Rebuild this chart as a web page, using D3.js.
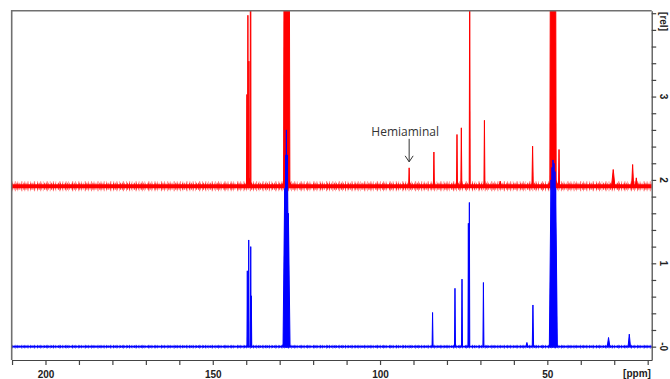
<!DOCTYPE html>
<html>
<head>
<meta charset="utf-8">
<script src="https://cdn.jsdelivr.net/npm/d3@7/dist/d3.min.js"></script>
<style>
  body { margin: 0; background: #fff; }
  svg { display: block; }
</style>
</head>
<body>
<div id="chart"></div>
<script>
// axis labels
const ppmLabels = [200, 150, 100, 50];
const relValues = [0, 1, 2, 3];
const relLabels = ['-0', '1', '2', '3'];

// blue trace (starting material), baseline at 0
const blueBaseline = 0;
const bluePpm    = [139.67, 139.25, 138.65, 138.47, 128.0, 128.5, 128.2, 128.0, 127.7, 127.4,
                    84.3, 77.6, 75.5, 73.6, 73.3, 69.1, 56.1, 54.3,
                    48.2, 48.9, 48.6, 48.3, 48.0, 47.7, 47.5, 31.7, 25.5];
const blueHeight = [0.91, 1.28, 1.20, 0.61, 0.12, 1.9, 2.3, 2.6, 2.3, 1.6,
                    0.41, 0.70, 0.81, 1.48, 1.73, 0.77, 0.05, 0.50,
                    0.12, 2.0, 2.15, 2.24, 2.2, 2.1, 1.9, 0.11, 0.15];
const blueWidth  = [0.12, 0.12, 0.12, 0.12, 1.2, 0.5, 0.5, 0.5, 0.5, 0.5,
                    0.15, 0.15, 0.15, 0.12, 0.12, 0.15, 0.3, 0.2,
                    1.2, 0.5, 0.5, 0.5, 0.5, 0.5, 0.5, 0.4, 0.35];

// red trace (reaction mixture), offset upwards
const redBaseline = 1.925;
const redPpm    = [139.2, 139.8, 139.5, 139.2, 138.7, 127.9, 128.5, 128.2, 127.9, 127.6, 127.3,
                   91.3, 83.9, 77.0, 75.7, 73.2, 68.8, 64.1, 54.4,
                   48.2, 48.9, 48.6, 48.3, 48.0, 47.7, 46.5, 30.3, 24.5, 23.4];
const redHeight = [0.10, 1.1, 2.05, 1.5, 6.0, 0.15, 6.0, 6.0, 6.0, 6.0, 6.0,
                   0.22, 0.41, 0.62, 0.70, 2.6, 0.79, 0.06, 0.48,
                   0.15, 6.0, 6.0, 6.0, 6.0, 6.0, 0.44, 0.20, 0.26, 0.10];
const redWidth  = [1.0, 0.12, 0.12, 0.12, 0.12, 1.4, 0.35, 0.35, 0.35, 0.35, 0.35,
                   0.15, 0.15, 0.15, 0.15, 0.15, 0.15, 0.3, 0.2,
                   1.4, 0.35, 0.35, 0.35, 0.35, 0.35, 0.15, 0.5, 0.3, 0.3];

const annotationText = 'Hemiaminal';
const annotationPpm = 91.3;
const annotationHeight = 0.22;

const width = 670;
const height = 379;
const plot = { left: 11.7, right: 651.7, top: 10.7, bottom: 360 };

const svg = d3.select('#chart').append('svg')
  .attr('width', width)
  .attr('height', height);

// scales: ppm runs right to left
const x = d3.scaleLinear()
  .domain([210.1, 18.8])
  .range([plot.left, plot.right]);

const y = d3.scaleLinear()
  .domain([-0.16, 4.03])
  .range([plot.bottom, plot.top]);

svg.append('clipPath')
  .attr('id', 'plot-clip')
  .append('rect')
  .attr('x', plot.left)
  .attr('y', plot.top)
  .attr('width', plot.right - plot.left)
  .attr('height', plot.bottom - plot.top);

const traces = svg.append('g').attr('clip-path', 'url(#plot-clip)');

// one spectrum = noisy baseline band + narrow peaks
function drawTrace(baseline, ppm, heights, widths, colour, core, halo) {
  const g = traces.append('g');
  const baseLine = d3.line()
    .x(d => x(d))
    .y(() => y(baseline));

  // two uneven dashed halos stand in for the baseline noise
  g.append('path')
    .datum(x.domain())
    .attr('d', baseLine)
    .attr('stroke', colour)
    .attr('stroke-width', halo)
    .attr('stroke-dasharray', '0.8 2.3 1 1.7 0.6 3.1 1.2 2')
    .attr('stroke-opacity', 0.5)
    .attr('fill', 'none');

  g.append('path')
    .datum(x.domain())
    .attr('d', baseLine)
    .attr('stroke', colour)
    .attr('stroke-width', (core + halo) / 2)
    .attr('stroke-dasharray', '1 1.1 0.7 1.9 1.3 0.9')
    .attr('stroke-opacity', 0.7)
    .attr('fill', 'none');

  g.append('path')
    .datum(x.domain())
    .attr('d', baseLine)
    .attr('stroke', colour)
    .attr('stroke-width', core)
    .attr('fill', 'none');

  const peaks = ppm.map((p, i) => ({ p: p, h: heights[i], w: widths[i] }));
  const peakLine = d3.line()
    .x(d => x(d[0]))
    .y(d => y(d[1]));

  g.selectAll('.peak')
    .data(peaks)
    .enter().append('path')
    .attr('class', 'peak')
    .attr('d', d => peakLine([
      [d.p + d.w, baseline],
      [d.p, baseline + d.h],
      [d.p - d.w, baseline]
    ]) + 'Z')
    .attr('fill', colour)
    .attr('stroke', colour)
    .attr('stroke-width', 1)
    .attr('stroke-linejoin', 'round');
}

drawTrace(redBaseline, redPpm, redHeight, redWidth, '#ff0000', 4, 10);
drawTrace(blueBaseline, bluePpm, blueHeight, blueWidth, '#0000ff', 1.8, 4);

// frame on top and left
svg.append('path')
  .attr('d', `M${plot.left},${plot.bottom} V${plot.top} H${plot.right}`)
  .attr('fill', 'none')
  .attr('stroke', '#707070')
  .attr('stroke-width', 1.6);

// bottom ppm axis
const xAxis = svg.append('g')
  .attr('transform', `translate(0,${plot.bottom})`)
  .call(d3.axisBottom(x)
    .tickValues(d3.range(20, 211, 10))
    .tickSize(5)
    .tickSizeOuter(0)
    .tickFormat(d => ppmLabels.includes(d) ? d : ''));

xAxis.select('.domain').attr('stroke', '#444').attr('stroke-width', 1.2);
xAxis.selectAll('.tick line').attr('stroke', '#444').attr('stroke-width', 1.2);
xAxis.selectAll('text')
  .attr('y', 11)
  .style('font-family', '"Liberation Sans", Arial, sans-serif')
  .style('font-size', '10px')
  .style('font-weight', 'bold')
  .style('fill', '#222');

xAxis.append('text')
  .attr('x', x(23.2))
  .attr('y', 17)
  .attr('text-anchor', 'middle')
  .style('font-family', '"Liberation Sans", Arial, sans-serif')
  .style('font-size', '10px')
  .style('font-weight', 'bold')
  .style('fill', '#222')
  .text('[ppm]');

// right intensity axis
const yAxis = svg.append('g')
  .attr('transform', `translate(${plot.right},0)`)
  .call(d3.axisRight(y)
    .tickValues(d3.range(0, 20.5, 1).map(i => i * 0.2))
    .tickSize(4.5)
    .tickSizeOuter(0)
    .tickFormat(''));

yAxis.select('.domain').attr('stroke', '#444').attr('stroke-width', 1.2);
yAxis.selectAll('.tick line').attr('stroke', '#444').attr('stroke-width', 1.2);

const relText = relValues.map((v, i) => ({ v: v, label: relLabels[i] }))
  .concat([{ v: 3.9, label: '[rel]' }]);

yAxis.selectAll('.rel-label')
  .data(relText)
  .enter().append('text')
  .attr('class', 'rel-label')
  .attr('transform', d => `translate(12,${y(d.v)}) rotate(90)`)
  .attr('text-anchor', 'middle')
  .attr('dy', '0.35em')
  .style('font-family', '"Liberation Sans", Arial, sans-serif')
  .style('font-size', '10px')
  .style('font-weight', 'bold')
  .style('fill', '#222')
  .text(d => d.label);

// hemiaminal annotation with arrow
const tipX = x(annotationPpm);
const tipY = y(redBaseline + annotationHeight) - 6;

svg.append('text')
  .attr('x', tipX - 4)
  .attr('y', tipY - 26)
  .attr('text-anchor', 'middle')
  .style('font-family', '"Open Sans", sans-serif')
  .style('font-size', '12px')
  .style('fill', '#333')
  .text(annotationText);

svg.append('path')
  .attr('d', `M${tipX},${tipY - 23} V${tipY} M${tipX - 4},${tipY - 6} L${tipX},${tipY} L${tipX + 4},${tipY - 6}`)
  .attr('fill', 'none')
  .attr('stroke', '#333')
  .attr('stroke-width', 1);
</script>
</body>
</html>
